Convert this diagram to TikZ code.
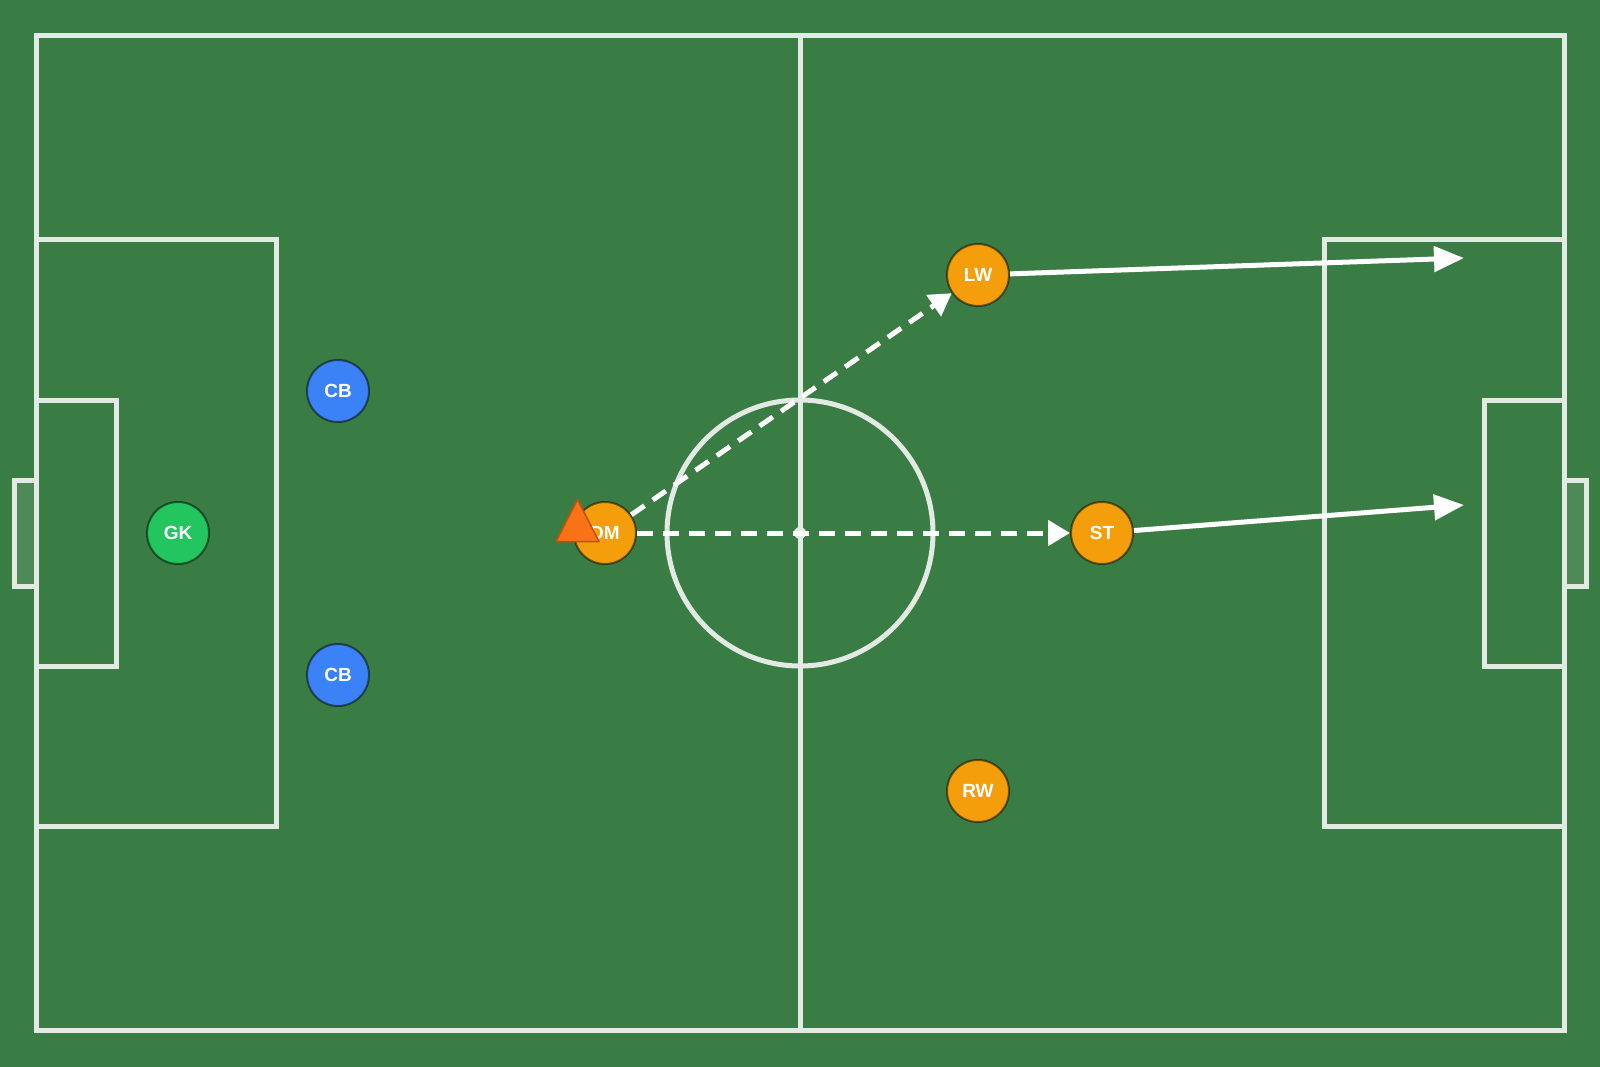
\documentclass[tikz,border=0pt]{standalone}
\usepackage{fontspec}
\setmainfont{Liberation Sans}
\usetikzlibrary{arrows.meta}
\definecolor{pitchGreen}{RGB}{58,125,68}
\definecolor{lineWhite}{RGB}{226,234,227}
\definecolor{homeOrange}{RGB}{245,158,11}
\definecolor{awayBlue}{RGB}{59,130,246}
\definecolor{keeperGreen}{RGB}{34,197,94}
\definecolor{ballOrange}{RGB}{249,115,22}
\definecolor{ballEdge}{RGB}{194,80,12}
\begin{document}
\begin{tikzpicture}
[x=1pt,y=-1pt,
  lineDecorate/.style={draw=lineWhite,line width=5pt},
  goalDecorate/.style={lineDecorate,fill=white,fill opacity=0.1,draw opacity=1},
  nodeDecorate/.style={shape=circle,minimum size=62pt,inner sep=0pt,
    draw=black,draw opacity=0.5,line width=2pt,text=white,
    font=\bfseries\fontsize{19}{19}\selectfont},
  runDecorate/.style={-{Triangle[length=30pt,width=25pt]},draw=white,line width=5pt},
  passDecorate/.style={-{Triangle[length=22pt,width=25pt]},draw=white,line width=5pt,
    dash pattern=on 16pt off 10pt}]
%% pitch
\useasboundingbox (0,0) rectangle (1600,1067);
\fill[pitchGreen] (0,0) rectangle (1600,1067);
\draw[lineDecorate] (36,36) rectangle (1564,1030);
\draw[lineDecorate] (800,36) -- (800,1030);
\draw[lineDecorate] (800,533) circle (133);
\fill[lineWhite] (800,533) circle (6);
\draw[lineDecorate] (36,240) rectangle (276,826);
\draw[lineDecorate] (1324,240) rectangle (1564,826);
\draw[lineDecorate] (36,400) rectangle (116,666);
\draw[lineDecorate] (1484,400) rectangle (1564,666);
\draw[goalDecorate] (14,480) rectangle (36,586);
\draw[goalDecorate] (1564,480) rectangle (1586,586);
%% players
\foreach \nodename/\x/\y/\col in {
  GK/178/533/keeperGreen, CBa/338/391/awayBlue, CBb/338/675/awayBlue,
  DM/605/533/homeOrange, LW/978/275/homeOrange, ST/1102/533/homeOrange,
  RW/978/791/homeOrange}
{
  \node (\nodename) at (\x,\y) [nodeDecorate,fill=\col] {};
}
\foreach \nodename/\txt in {GK/GK, CBa/CB, CBb/CB, DM/DM, LW/LW, ST/ST, RW/RW}
{
  \node[text=white,font=\bfseries\fontsize{19}{19}\selectfont] at (\nodename) {\txt};
}
\coordinate (LWgoal) at (1464,258);
\coordinate (STgoal) at (1464,505);
%% passes and runs
\path
\foreach \startnode/\endnode in {DM/LW, DM/ST}
{
  (\startnode) edge[passDecorate] (\endnode)
};
\path
\foreach \startnode/\endnode in {LW/LWgoal, ST/STgoal}
{
  (\startnode) edge[runDecorate] (\endnode)
};
%% ball
\draw[fill=ballOrange,draw=ballEdge,line width=1.5pt,line join=round]
  (577.5,499.5) -- (556,541.5) -- (599,541.5) -- cycle;
\end{tikzpicture}
\end{document}
